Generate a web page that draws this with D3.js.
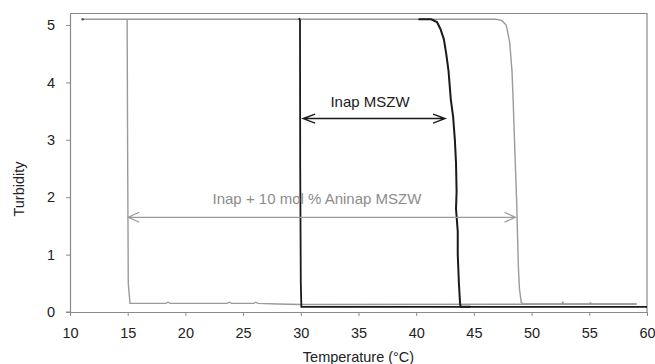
<!DOCTYPE html>
<html><head><meta charset="utf-8">
<script src="https://cdn.jsdelivr.net/npm/d3@7/dist/d3.min.js"></script>
<style>
html,body{margin:0;padding:0;background:#fff;}
svg{display:block;font-family:"Liberation Sans",Arial,Helvetica,sans-serif;}
</style></head>
<body><svg id="chart" width="655" height="364"></svg>
<script>
// ---- data (temperature °C, turbidity) ----
const xTicks = [10,15,20,25,30,35,40,45,50,55,60];
const yTicks = [0,1,2,3,4,5];
const xLabel = "Temperature (°C)";
const yLabel = "Turbidity";

// Inap + 10 mol % Aninap (grey) heating run
const aninapHeating = [[11.1,5.1],[46.9,5.1],[47.4,5.08],[47.8,5.0],[48.1,4.7],[48.3,4.2],[48.4,3.7],
  [48.55,2.8],[48.7,1.95],[48.8,1.2],[48.85,0.8],[48.95,0.4],[49.1,0.17],[49.3,0.14],[52.6,0.14],
  [52.7,0.17],[52.8,0.14],[55.0,0.14],[55.1,0.16],[55.2,0.14],[59.1,0.14]];
// Inap + 10 mol % Aninap (grey) cooling run
const aninapCooling = [[59.1,0.14],[30.0,0.13],[28.0,0.14],[26.3,0.15],[26.1,0.17],[25.9,0.15],
  [24.0,0.15],[23.8,0.17],[23.6,0.15],[18.7,0.15],[18.5,0.17],[18.3,0.15],[15.2,0.15],[15.05,0.5],
  [15.0,2.5],[14.95,5.1]];
// Inap (black) heating run
const inapHeating = [[40.2,5.1],[41.3,5.1],[41.8,5.05],[42.1,4.93],[42.4,4.75],[42.6,4.5],[42.8,4.2],
  [43.0,3.7],[43.2,3.4],[43.35,3.0],[43.45,2.6],[43.5,2.1],[43.45,1.8],[43.6,1.4],[43.6,1.0],
  [43.7,0.5],[43.8,0.15],[43.85,0.09],[44.7,0.09]];
// Inap (black) cooling run
const inapCooling = [[60,0.09],[30.05,0.09],[30.0,0.5],[29.95,2.5],[29.93,5.08],[29.85,5.12]];

// annotations (data coordinates)
const inapArrow = [30.2, 42.5, 3.37];
const inapText = ["Inap MSZW", 36.0, 3.57];
const aninapArrow = [15.05, 48.6, 1.65];
const aninapText = ["Inap + 10 mol % Aninap MSZW", 31.4, 1.89];

// ---- chart ----
const svg = d3.select("#chart");
const x = d3.scaleLinear().domain([10,60]).range([70,647]);
const y = d3.scaleLinear().domain([0,5.2]).range([312,13.5]);

const axisCol = "#8a8a8a", grey = "#9a9a9a", black = "#1a1a1a", txt = "#222";

// border top/right
svg.append("path").attr("d",`M${x(10)},${y(5.2)}H${x(60)}V${y(0)}`)
  .attr("fill","none").attr("stroke",axisCol).attr("stroke-width",1.2);

const gx = svg.append("g").attr("transform",`translate(0,${y(0)})`)
  .call(d3.axisBottom(x).tickValues(xTicks).tickFormat(d3.format("d")).tickSize(4).tickPadding(12).tickSizeOuter(0));
const gy = svg.append("g").attr("transform",`translate(${x(10)},0)`)
  .call(d3.axisLeft(y).tickValues(yTicks).tickFormat(d3.format("d")).tickSize(4).tickPadding(11).tickSizeOuter(0));
[gx,gy].forEach(g=>{
  g.select(".domain").attr("stroke",axisCol).attr("stroke-width",1.2);
  g.selectAll(".tick line").attr("stroke",axisCol);
  g.selectAll(".tick text").attr("fill",txt).attr("font-size",14.5)
   .attr("font-family","Liberation Sans, Arial, sans-serif");
});
// extend bottom axis to meet left axis
svg.append("line").attr("x1",x(10)-4).attr("x2",x(10)).attr("y1",y(0)).attr("y2",y(0)).attr("stroke",axisCol);

svg.append("text").attr("x",(x(10)+x(60))/2).attr("y",362).attr("text-anchor","middle")
  .attr("font-size",14.5).attr("fill",txt).text(xLabel);
svg.append("text").attr("transform",`translate(24,189) rotate(-90)`).attr("text-anchor","middle")
  .attr("font-size",14.5).attr("fill",txt).text(yLabel);

const line = d3.line().x(d=>x(d[0])).y(d=>y(d[1]));
svg.append("path").datum(aninapCooling).attr("d",line).attr("fill","none").attr("stroke",grey).attr("stroke-width",1.4);
svg.append("path").datum(aninapHeating).attr("d",line).attr("fill","none").attr("stroke",grey).attr("stroke-width",1.4);
svg.append("path").datum(inapCooling).attr("d",line).attr("fill","none").attr("stroke",black).attr("stroke-width",1.8);
svg.append("path").datum(inapHeating).attr("d",line).attr("fill","none").attr("stroke",black).attr("stroke-width",2);
// start dot for grey run
svg.append("circle").attr("cx",x(aninapHeating[0][0])).attr("cy",y(aninapHeating[0][1])).attr("r",1.3).attr("fill","#555");

function arrow(a, col, w, len, half){
  const x1=x(a[0]), x2=x(a[1]), yy=y(a[2]);
  svg.append("path").attr("d",
    `M${x1},${yy}H${x2}M${x1+len},${yy-half}L${x1},${yy}L${x1+len},${yy+half}M${x2-len},${yy-half}L${x2},${yy}L${x2-len},${yy+half}`)
    .attr("fill","none").attr("stroke",col).attr("stroke-width",w);
}
arrow(aninapArrow, grey, 1.2, 11, 5);
arrow(inapArrow, black, 1.4, 12, 4.5);

svg.append("text").attr("x",x(inapText[1])).attr("y",y(inapText[2])).attr("text-anchor","middle")
  .attr("font-size",15).attr("fill",black).text(inapText[0]);
svg.append("text").attr("x",x(aninapText[1])).attr("y",y(aninapText[2])).attr("text-anchor","middle")
  .attr("font-size",15).attr("fill","#8c8c8c").text(aninapText[0]);
</script></body></html>
